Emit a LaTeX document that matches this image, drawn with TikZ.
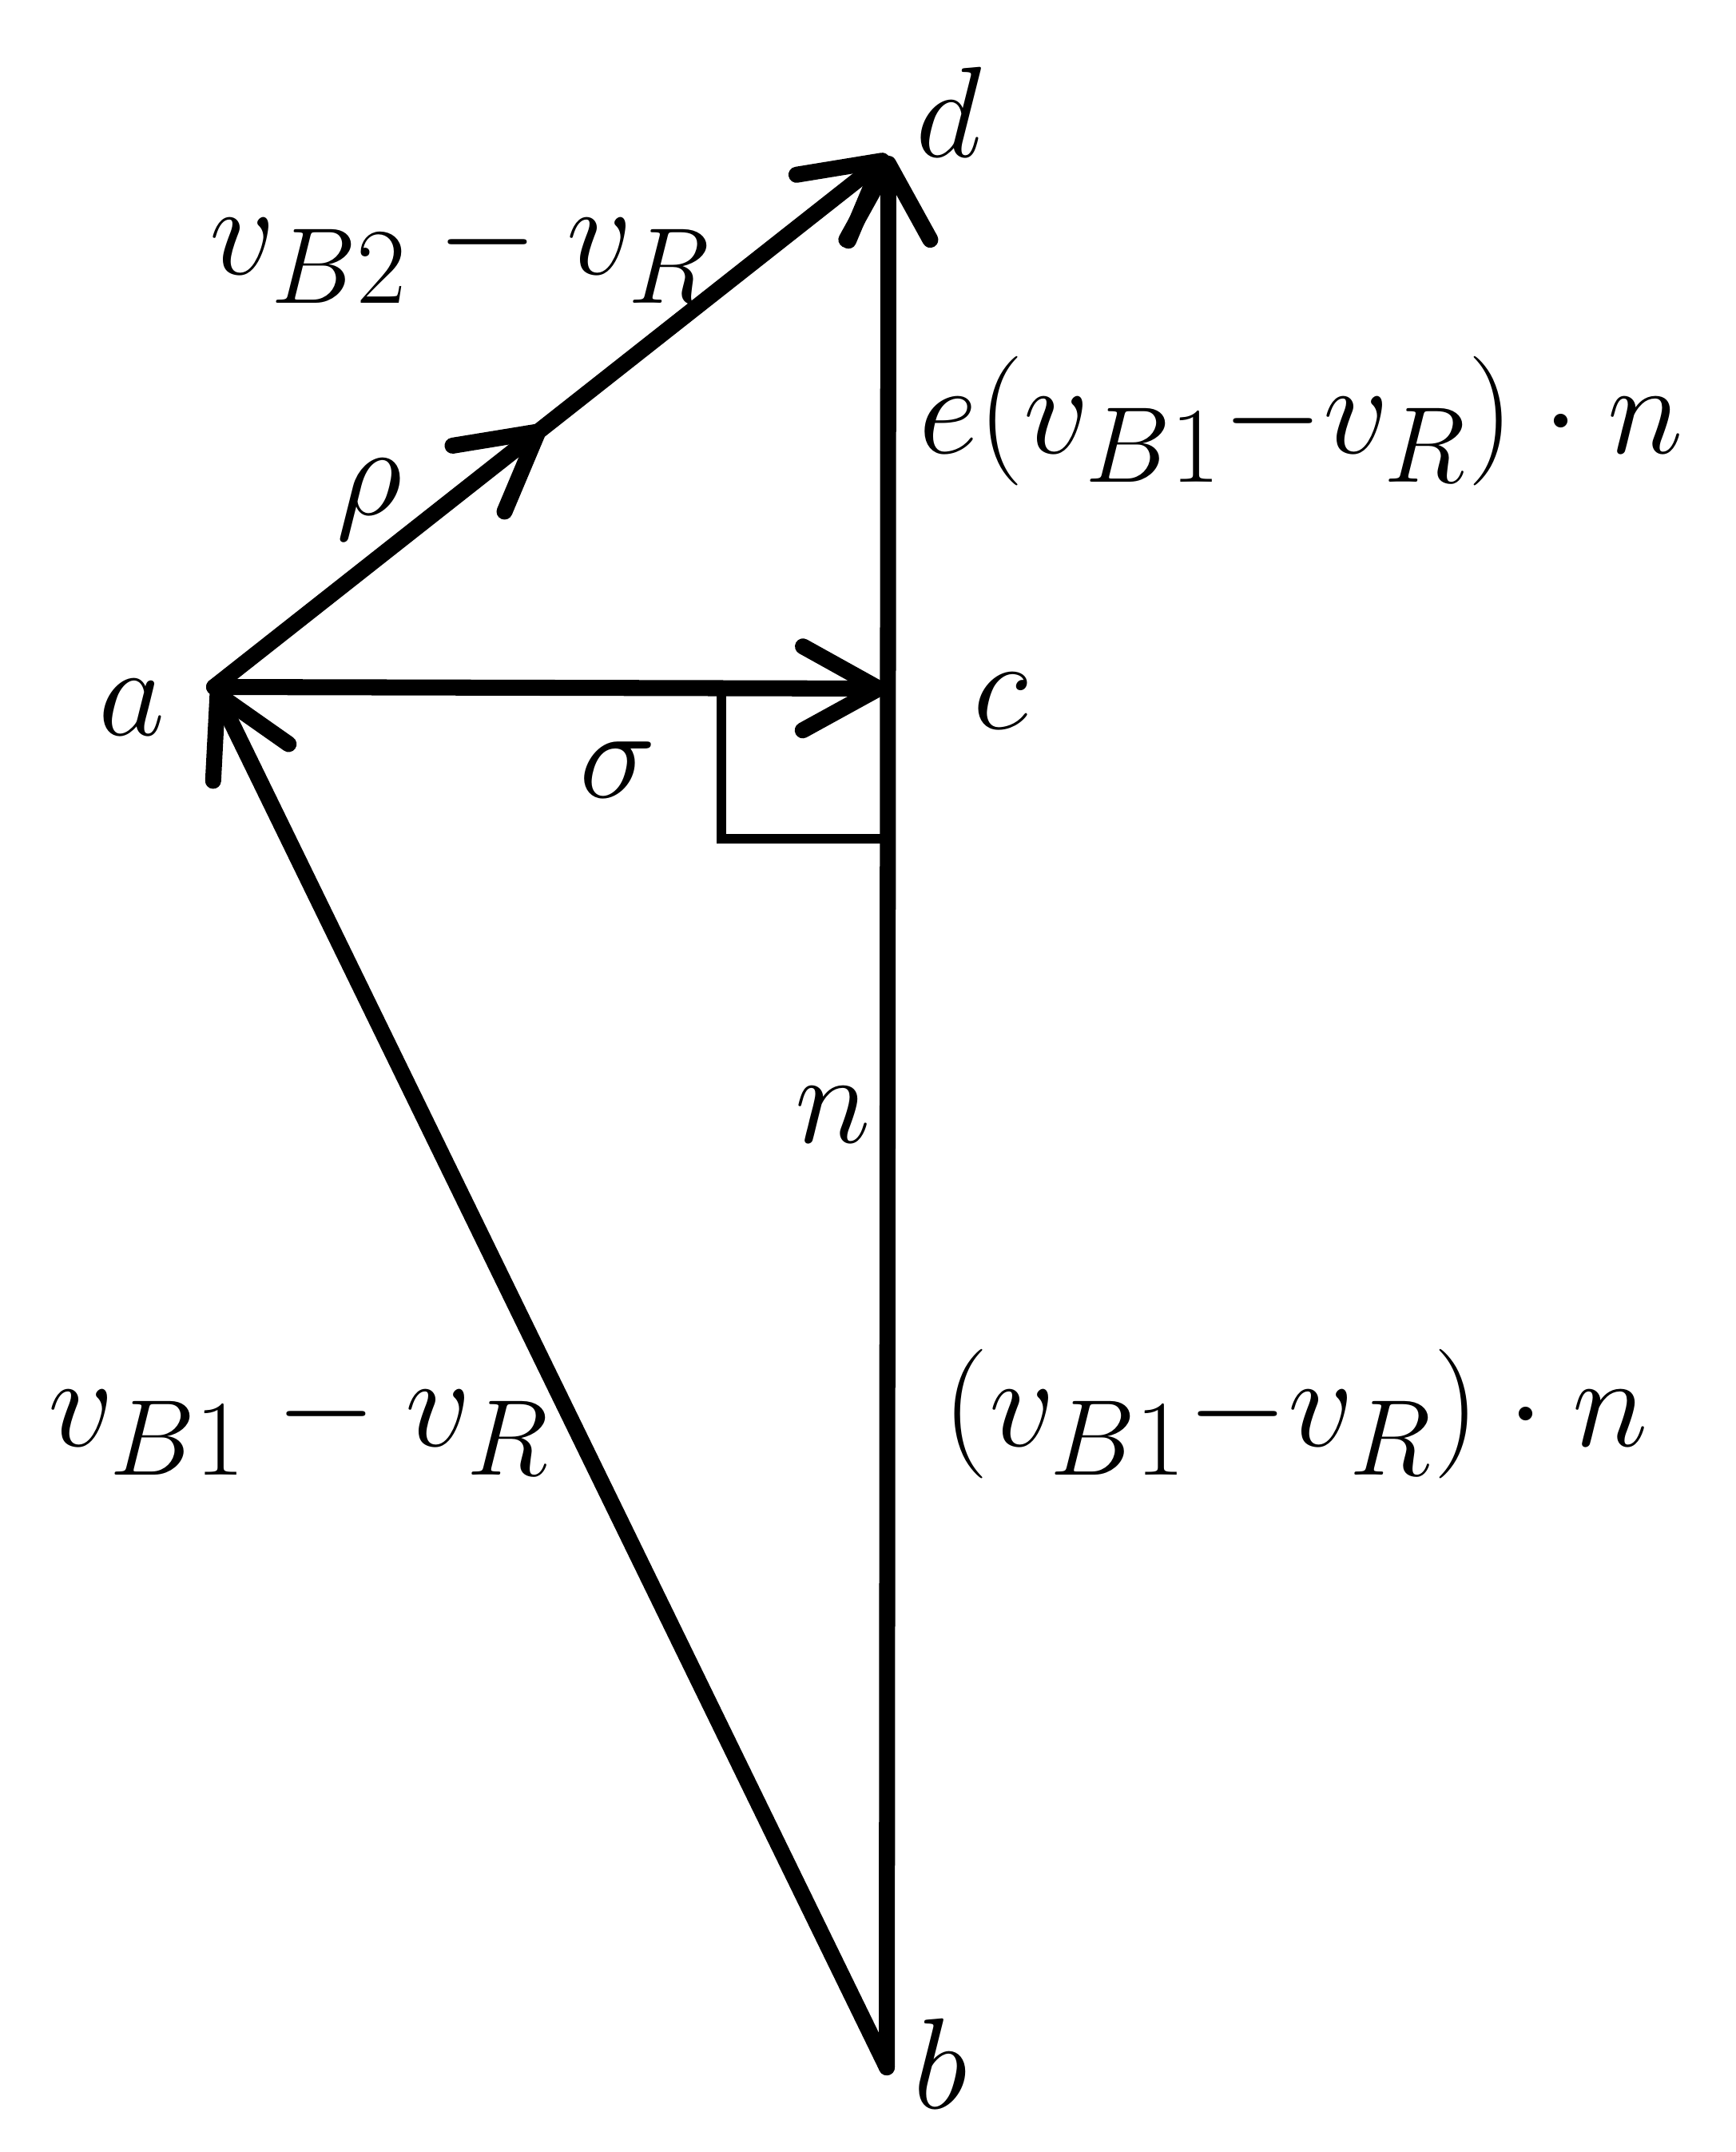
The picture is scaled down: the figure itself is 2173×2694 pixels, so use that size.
\documentclass[tikz,border=0pt]{standalone}
\usetikzlibrary{arrows.meta,decorations.markings}
\newcommand{\lblmath}[1]{\scalebox{1.85}{\fontsize{24.88}{30}\selectfont$#1$}}
\begin{document}
\begin{tikzpicture}[x=0.01cm,y=-0.01cm,
  vec/.style={line width=5.7pt,line cap=round,line join=round,
    -{Straight Barb[length=0.95cm,width=1.05cm,round]}},
  thin box/.style={line width=3.4pt,line join=miter},
  lbl/.style={inner sep=0pt}]
\useasboundingbox (0,0) rectangle (2173,2694);
\coordinate (a) at (268,860);
\coordinate (c) at (1110,862);
\coordinate (d) at (1112,195);
\coordinate (b) at (1110,2588);
\coordinate (ra1) at (903,862);
\coordinate (ra2) at (903,1050);
\coordinate (ra3) at (1110,1050);
% right angle mark
\draw[thin box] (ra1) -- (ra2) -- (ra3);
% vectors
\draw[vec] (b) -- (d);
\draw[vec] (a) -- (c);
\draw[vec] (b) -- (a);
\draw[vec,postaction={decorate},
  decoration={markings,mark=at position 0.49 with {\arrow{Straight Barb[length=0.95cm,width=1.05cm,round]}}}] (a) -- (d);
% labels
\node[lbl] (ld) at (1188,140) {\lblmath{d}};
\node[lbl,anchor=base west] (lvb2) at (262,343) {\lblmath{v_{B2}-v_R}};
\node[lbl,anchor=base west] (le) at (1150,567) {\lblmath{e(v_{B1}{-}v_R)\cdot n}};
\node[lbl] (lrho) at (462,625) {\lblmath{\rho}};
\node[lbl] (la) at (165,886) {\lblmath{a}};
\node[lbl] (lc) at (1253,878) {\lblmath{c}};
\node[lbl] (lsigma) at (773,964) {\lblmath{\sigma}};
\node[lbl] (ln) at (1043,1396) {\lblmath{n}};
\node[lbl,anchor=base west] (lvb1) at (60,1810) {\lblmath{v_{B1}-v_R}};
\node[lbl,anchor=base west] (lproj) at (1180,1810) {\lblmath{(v_{B1}{-}v_R)\cdot n}};
\node[lbl] (lb) at (1177,2583) {\lblmath{b}};
\end{tikzpicture}
\end{document}
